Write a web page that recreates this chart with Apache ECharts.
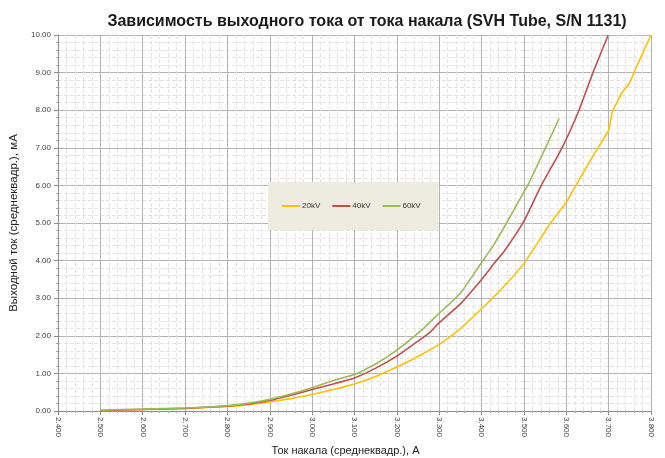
<!DOCTYPE html>
<html>
<head>
<meta charset="utf-8">
<script src="https://cdn.jsdelivr.net/npm/echarts@6/dist/echarts.min.js"></script>
<style>
  html, body { margin: 0; padding: 0; background: #ffffff; }
  #chart { width: 665px; height: 458px; }
</style>
</head>
<body>
<div id="chart"></div>
<script>
// Filament current (A) vs. output current (mA) for each tube voltage
const seriesNames = ['20kV', '40kV', '60kV'];
const seriesColors = ['#FFC000', '#C0504D', '#9BBB59'];

const filament20 = [2.50, 2.60, 2.70, 2.80, 2.85, 2.90, 2.95, 3.00, 3.05, 3.10, 3.15, 3.20, 3.25, 3.30, 3.346, 3.40, 3.445, 3.50, 3.563, 3.60, 3.62, 3.672, 3.700, 3.709, 3.733, 3.749, 3.764, 3.80];
const output20   = [0.01, 0.04, 0.07, 0.12, 0.17, 0.24, 0.33, 0.44, 0.57, 0.72, 0.92, 1.17, 1.45, 1.77, 2.15, 2.72, 3.22, 3.92, 5.00, 5.55, 5.95, 6.95, 7.47, 7.96, 8.49, 8.71, 9.11, 10.00];

const filament40 = [2.50, 2.60, 2.70, 2.80, 2.85, 2.90, 2.95, 3.00, 3.05, 3.10, 3.15, 3.20, 3.25, 3.279, 3.30, 3.35, 3.40, 3.435, 3.453, 3.50, 3.541, 3.59, 3.63, 3.663, 3.699];
const output40   = [0.01, 0.04, 0.07, 0.13, 0.19, 0.28, 0.42, 0.57, 0.72, 0.88, 1.14, 1.46, 1.86, 2.10, 2.35, 2.85, 3.50, 4.00, 4.24, 5.05, 6.00, 7.00, 8.00, 9.00, 10.00];

const filament60 = [2.50, 2.60, 2.70, 2.80, 2.85, 2.90, 2.95, 3.00, 3.05, 3.10, 3.15, 3.20, 3.263, 3.30, 3.35, 3.40, 3.425, 3.459, 3.489, 3.509, 3.551, 3.583];
const output60   = [0.02, 0.05, 0.08, 0.14, 0.21, 0.31, 0.45, 0.62, 0.81, 0.97, 1.25, 1.62, 2.20, 2.60, 3.13, 3.95, 4.35, 5.00, 5.61, 6.00, 7.00, 7.78];

const filamentSets = [filament20, filament40, filament60];
const outputSets = [output20, output40, output60];

const chartTitle = 'Зависимость выходного тока от тока накала (SVH Tube, S/N 1131)';
const xAxisTitle = 'Ток накала (среднеквадр.), А';
const yAxisTitle = 'Выходной ток (среднеквадр.), мА';

const sans = "'Liberation Sans', Arial, sans-serif";

const chart = echarts.init(document.getElementById('chart'), null, { renderer: 'canvas' });

const series = seriesNames.map((name, i) => ({
  name: name,
  type: 'line',
  data: filamentSets[i].map((x, k) => [x, outputSets[i][k]]),
  symbol: 'none',
  showSymbol: false,
  smooth: 0.15,
  lineStyle: { color: seriesColors[i], width: 1.6 },
  itemStyle: { color: seriesColors[i] },
  z: 3 + i
}));

chart.setOption({
  animation: false,
  backgroundColor: '#ffffff',
  title: {
    text: chartTitle,
    left: 362,
    textAlign: 'center',
    top: 9,
    textStyle: { fontFamily: sans, fontWeight: 'bold', fontSize: 16, color: '#1a1a1a' }
  },
  legend: {
    data: seriesNames,
    left: 268,
    top: 182,
    orient: 'horizontal',
    backgroundColor: '#EEECE1',
    padding: [20, 18, 20, 14],
    icon: 'rect',
    itemWidth: 18,
    itemHeight: 2,
    itemGap: 12,
    textStyle: { fontFamily: sans, fontSize: 8, color: '#333333', padding: [0, 0, 0, -3] }
  },
  grid: { left: 58, right: 14, top: 35, bottom: 47, containLabel: false, outerBoundsMode: 'none' },
  xAxis: {
    type: 'value',
    min: 2.4,
    max: 3.8,
    interval: 0.1,
    name: xAxisTitle,
    nameLocation: 'middle',
    nameGap: 34,
    nameTextStyle: { fontFamily: sans, fontSize: 11, color: '#222222', padding: [0, 18, 0, 0] },
    axisLine: { show: true, lineStyle: { color: '#8c8c8c', width: 1 } },
    axisTick: { show: true, length: 4, lineStyle: { color: '#8c8c8c' } },
    minorTick: { show: true, splitNumber: 5, length: 2, lineStyle: { color: '#a6a6a6' } },
    axisLabel: {
      rotate: -90,
      fontFamily: sans,
      fontSize: 8,
      color: '#404040',
      margin: 6,
      formatter: v => v.toFixed(3)
    },
    splitLine: { show: true, lineStyle: { color: '#b3b3b3', width: 1 } },
    minorSplitLine: { show: true, lineStyle: { color: '#e3e3e3', width: 1, type: [4, 2] } }
  },
  yAxis: {
    type: 'value',
    min: 0,
    max: 10,
    interval: 1,
    name: yAxisTitle,
    nameLocation: 'middle',
    nameGap: 36,
    nameTextStyle: { fontFamily: sans, fontSize: 11.5, color: '#222222' },
    axisLine: { show: true, lineStyle: { color: '#8c8c8c', width: 1 } },
    axisTick: { show: true, length: 4, lineStyle: { color: '#8c8c8c' } },
    minorTick: { show: true, splitNumber: 5, length: 2, lineStyle: { color: '#a6a6a6' } },
    axisLabel: {
      fontFamily: sans,
      fontSize: 8,
      color: '#404040',
      margin: 7,
      formatter: v => v.toFixed(2)
    },
    splitLine: { show: true, lineStyle: { color: '#b3b3b3', width: 1 } },
    minorSplitLine: { show: true, lineStyle: { color: '#e3e3e3', width: 1, type: [4, 2] } }
  },
  series: series
});
</script>
</body>
</html>
